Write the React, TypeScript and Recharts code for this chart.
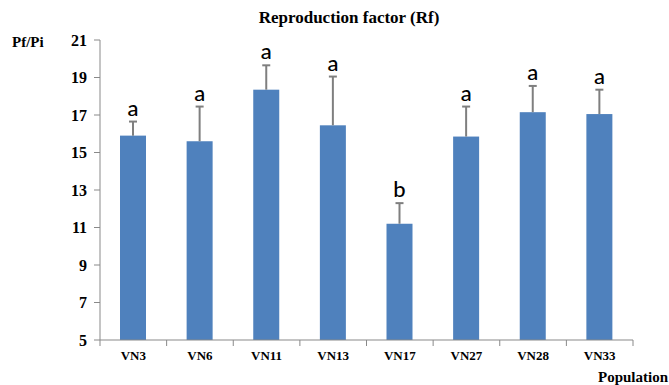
import { BarChart, Bar, XAxis, YAxis } from 'recharts';

const populations = ['VN3', 'VN6', 'VN11', 'VN13', 'VN17', 'VN27', 'VN28', 'VN33'];
const rfMeans = [15.9, 15.6, 18.35, 16.45, 11.2, 15.85, 17.15, 17.05];
const rfErrors = [0.75, 1.85, 1.3, 2.6, 1.1, 1.6, 1.4, 1.3];
const groups = ['a', 'a', 'a', 'a', 'b', 'a', 'a', 'a'];
const yTicks = [5, 7, 9, 11, 13, 15, 17, 19, 21];

const Y_MIN = 5;
const AXIS = '#898989';
const SERIF = '"Liberation Serif", "Times New Roman", serif';

const data = populations.map((name, i) => ({
  name,
  rf: rfMeans[i],
  err: rfErrors[i],
  group: groups[i],
}));

// bar + upper whisker + letter, whisker length taken from the bar's own scale
function BarWithError(props: any) {
  const { x, y, width, height, payload } = props;
  const pxPerUnit = height / (payload.rf - Y_MIN);
  const top = y - payload.err * pxPerUnit;
  const cx = x + width / 2;
  return (
    <g>
      <rect x={x} y={y} width={width} height={height} fill="#4F81BD" />
      <line x1={cx} x2={cx} y1={y} y2={top} stroke="#7f7f7f" strokeWidth={2} />
      <line x1={cx - 4} x2={cx + 4} y1={top} y2={top} stroke="#7f7f7f" strokeWidth={2} />
      <text
        x={cx}
        y={top - 6}
        textAnchor="middle"
        fontFamily="Lato, 'Open Sans', sans-serif"
        fontSize={22}
        fontWeight={500}
        fill="#000"
      >
        {payload.group}
      </text>
    </g>
  );
}

// category label + tick marks on the category boundaries (Excel style)
function CatTick(props: any) {
  const { x, y, payload, index, visibleTicksCount } = props;
  const half = payload && payload.offset ? payload.offset : 0;
  const isLast = index === visibleTicksCount - 1;
  return (
    <g>
      <line x1={x - half} x2={x - half} y1={y} y2={y + 6} stroke={AXIS} />
      {isLast && <line x1={x + half} x2={x + half} y1={y} y2={y + 6} stroke={AXIS} />}
      <text
        x={x}
        y={y + 20}
        textAnchor="middle"
        fontFamily={SERIF}
        fontWeight={700}
        fontSize={13}
        fill="#000"
      >
        {payload.value}
      </text>
    </g>
  );
}

export default function App() {
  return (
    <div style={{ position: 'absolute', left: 0, top: 0, width: 669, height: 385, background: '#fff' }}>
      <BarChart
        width={669}
        height={385}
        data={data}
        margin={{ top: 40, right: 36, bottom: 15, left: 40 }}
      >
        <XAxis
          dataKey="name"
          height={30}
          stroke={AXIS}
          tickLine={false}
          tickSize={0}
          tickMargin={0}
          interval={0}
          tick={CatTick}
        />
        <YAxis
          width={60}
          domain={[5, 21]}
          ticks={yTicks}
          interval={0}
          tickSize={6}
          tickMargin={7}
          stroke={AXIS}
          tick={{ fontFamily: SERIF, fontWeight: 700, fontSize: 16, fill: '#000' }}
        />
        <Bar
          dataKey="rf"
          barSize={26}
          shape={BarWithError}
          isAnimationActive={false}
        />
      </BarChart>
      <svg
        width={669}
        height={385}
        style={{ position: 'absolute', left: 0, top: 0, pointerEvents: 'none' }}
      >
        <text x={349} y={23} textAnchor="middle" fontFamily={SERIF} fontWeight={700} fontSize={17}>
          Reproduction factor (Rf)
        </text>
        <text x={12} y={47} fontFamily={SERIF} fontWeight={700} fontSize={15}>
          Pf/Pi
        </text>
        <text x={598} y={382} fontFamily={SERIF} fontWeight={700} fontSize={15}>
          Population
        </text>
      </svg>
    </div>
  );
}
